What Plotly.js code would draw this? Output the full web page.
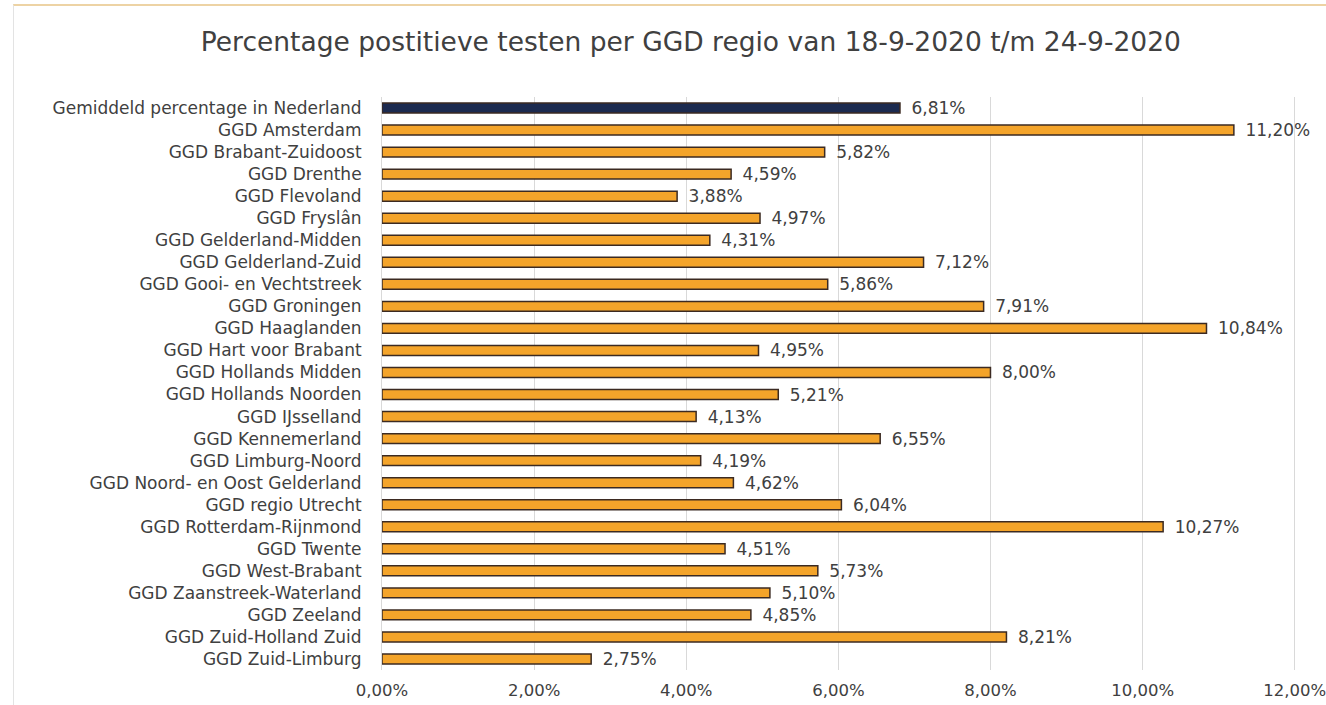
<!DOCTYPE html>
<html>
<head>
<meta charset="utf-8">
<script src="https://cdn.plot.ly/plotly-3.0.1.min.js"></script>
<style>
  html, body { margin: 0; padding: 0; background: #fff; }
  #frame { position: absolute; left: 13px; top: 4px; width: 1313px; height: 701px;
           border-top: 2px solid #edd3a4; border-left: 1px solid #e3e3e3; }
  #chart { position: absolute; left: 0; top: 0; width: 1326px; height: 705px; }
</style>
</head>
<body>
<div id="frame"></div>
<div id="chart"></div>
<script>
const categories = [
  "Gemiddeld percentage in Nederland",
  "GGD Amsterdam",
  "GGD Brabant-Zuidoost",
  "GGD Drenthe",
  "GGD Flevoland",
  "GGD Fryslân",
  "GGD Gelderland-Midden",
  "GGD Gelderland-Zuid",
  "GGD Gooi- en Vechtstreek",
  "GGD Groningen",
  "GGD Haaglanden",
  "GGD Hart voor Brabant",
  "GGD Hollands Midden",
  "GGD Hollands Noorden",
  "GGD IJsselland",
  "GGD Kennemerland",
  "GGD Limburg-Noord",
  "GGD Noord- en Oost Gelderland",
  "GGD regio Utrecht",
  "GGD Rotterdam-Rijnmond",
  "GGD Twente",
  "GGD West-Brabant",
  "GGD Zaanstreek-Waterland",
  "GGD Zeeland",
  "GGD Zuid-Holland Zuid",
  "GGD Zuid-Limburg"
];
const percentages = [6.81, 11.20, 5.82, 4.59, 3.88, 4.97, 4.31, 7.12, 5.86, 7.91, 10.84, 4.95, 8.00,
  5.21, 4.13, 6.55, 4.19, 4.62, 6.04, 10.27, 4.51, 5.73, 5.10, 4.85, 8.21, 2.75];
const tickValues = [0, 2, 4, 6, 8, 10, 12];
const tickLabels = ["0,00%", "2,00%", "4,00%", "6,00%", "8,00%", "10,00%", "12,00%"];

const fmt = v => '\u2002' + v.toFixed(2).replace('.', ',') + '%';
const colors = categories.map((c, i) => i === 0 ? '#1c2a4f' : '#f4a42a');
const FONT = 'DejaVu Sans, Verdana, sans-serif';

const trace = {
  type: 'bar',
  orientation: 'h',
  y: categories,
  x: percentages,
  text: percentages.map(fmt),
  textposition: 'outside',
  constraintext: 'none',
  cliponaxis: false,
  textfont: { family: FONT, size: 17, color: '#404040' },
  marker: { color: colors, line: { color: '#3b2a22', width: 1.5 } },
  hoverinfo: 'x+y'
};

const layout = {
  width: 1326,
  height: 705,
  margin: { l: 382, r: 29, t: 97, b: 35 },
  paper_bgcolor: 'rgba(0,0,0,0)',
  plot_bgcolor: 'rgba(0,0,0,0)',
  bargap: 0.55,
  showlegend: false,
  font: { family: FONT, size: 17, color: '#404040' },
  title: {
    text: 'Percentage postitieve testen per GGD regio van 18-9-2020 t/m 24-9-2020',
    font: { family: FONT, size: 26.5, color: '#404040' },
    xref: 'container', x: 0.521, xanchor: 'center',
    yref: 'container', y: 1 - 42 / 705, yanchor: 'middle'
  },
  xaxis: {
    range: [0, 12.03],
    tickvals: tickValues,
    ticktext: tickLabels,
    showgrid: true,
    gridcolor: '#d9d9d9',
    gridwidth: 1,
    zeroline: false,
    showline: false,
    ticks: '',
    ticklabelstandoff: 8,
    ticklabeloverflow: 'allow',
    tickfont: { family: FONT, size: 16.5, color: '#404040' }
  },
  yaxis: {
    autorange: 'reversed',
    type: 'category',
    showgrid: false,
    zeroline: false,
    showline: true,
    linecolor: '#d9d9d9',
    linewidth: 1,
    ticks: '',
    ticklabelstandoff: 16,
    tickfont: { family: FONT, size: 17, color: '#404040' }
  }
};

Plotly.newPlot('chart', [trace], layout, { displayModeBar: false, staticPlot: true });
</script>
</body>
</html>
